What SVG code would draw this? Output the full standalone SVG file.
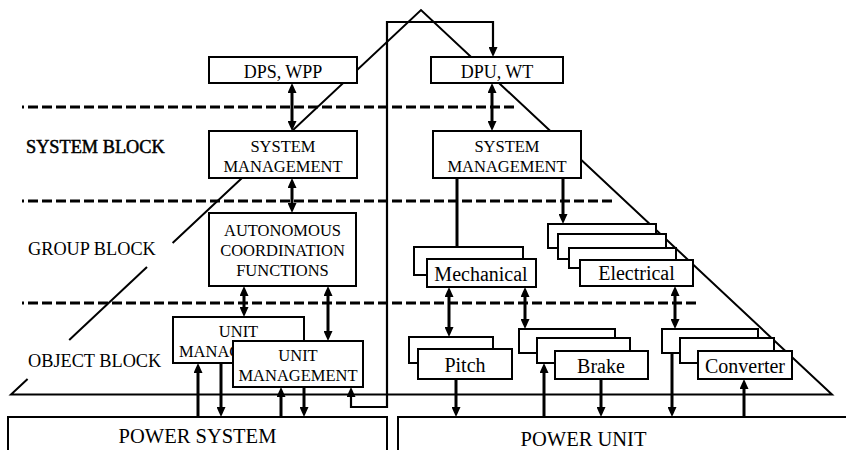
<svg xmlns="http://www.w3.org/2000/svg" width="846" height="450" viewBox="0 0 846 450">
<style>
  .box { fill: #fff; stroke: #000; stroke-width: 2; }
  .t { font-family: "Liberation Serif", "Times New Roman", serif; fill: #000; text-anchor: middle; }
  .s16 { font-size: 16.5px; }
  .s18 { font-size: 18px; }
  .s20 { font-size: 20px; }
  .lbl { font-family: "Liberation Serif", "Times New Roman", serif; font-size: 18.3px; fill: #000; }
  .dash { stroke: #000; stroke-width: 3; stroke-dasharray: 10 4; fill: none; }
  .pyr { stroke: #000; stroke-width: 2; fill: none; }
  .arr { stroke: #000; stroke-width: 3; fill: none; marker-end: url(#ah); }
  .darr { stroke: #000; stroke-width: 3; fill: none; marker-start: url(#ah); marker-end: url(#ah); }
</style>
<defs>
  <marker id="ah" markerUnits="userSpaceOnUse" markerWidth="10" markerHeight="9" refX="6" refY="4.5" orient="auto-start-reverse">
    <path d="M0,0 L10,4.5 L0,9 Z" fill="#000"/>
  </marker>
</defs>
<rect width="846" height="450" fill="#fff"/>

<g id="levels">
  <line class="dash" x1="22" y1="107" x2="518" y2="107" stroke-dashoffset="8"/>
  <line class="dash" x1="22" y1="201" x2="615" y2="201" stroke-dashoffset="8"/>
  <line class="dash" x1="22" y1="303" x2="700" y2="303" stroke-dashoffset="8"/>
</g>

<g id="pyramid">
  <polyline class="pyr" points="172.6,243 421,10 832,394.5 11,394.5 27.6,379"/>
  <line class="pyr" x1="147" y1="267" x2="69.2" y2="340"/>
</g>

<g id="labels">
  <text class="lbl" x="26" y="153" stroke="#000" stroke-width="0.5">SYSTEM BLOCK</text>
  <text class="lbl" x="28" y="255">GROUP BLOCK</text>
  <text class="lbl" x="28" y="367">OBJECT BLOCK</text>
</g>

<g id="connectors">
  <line class="darr" x1="292" y1="87" x2="292" y2="127"/>
  <line class="darr" x1="292" y1="182" x2="292" y2="209"/>
  <path d="M351,391 V407 H387 V22 H493 V53" stroke="#000" stroke-width="2.2" fill="none" marker-start="url(#ah)" marker-end="url(#ah)"/>
  <line class="darr" x1="492" y1="87" x2="492" y2="127"/>
  <line class="arr" x1="457" y1="178" x2="457" y2="255"/>
  <line class="arr" x1="563" y1="178" x2="563" y2="220"/>
  <line class="darr" x1="244" y1="290" x2="244" y2="313"/>
  <line class="darr" x1="328" y1="290" x2="328" y2="337"/>
  <line class="arr" x1="198" y1="417" x2="198" y2="367"/>
  <line class="arr" x1="221" y1="363" x2="221" y2="413"/>
  <line class="arr" x1="281" y1="417" x2="281" y2="391"/>
  <line class="arr" x1="304" y1="387" x2="304" y2="413"/>
  <line class="darr" x1="449" y1="291" x2="449" y2="333"/>
  <line class="darr" x1="525" y1="291" x2="525" y2="325"/>
  <line class="darr" x1="675" y1="290" x2="675" y2="325"/>
  <line class="arr" x1="456" y1="379" x2="456" y2="413"/>
  <line class="arr" x1="544" y1="417" x2="544" y2="367"/>
  <line class="arr" x1="601" y1="379" x2="601" y2="413"/>
  <line class="arr" x1="672" y1="353" x2="672" y2="413"/>
  <line class="arr" x1="744" y1="417" x2="744" y2="383"/>
</g>

<g id="dps-wpp">
  <rect class="box" x="209" y="57" width="148" height="26"/>
  <text class="t s18" x="283" y="78">DPS, WPP</text>
</g>
<g id="system-mgmt-left">
  <rect class="box" x="209" y="131" width="148" height="47"/>
  <text class="t s16" x="283" y="152">SYSTEM</text>
  <text class="t s16" x="283" y="172">MANAGEMENT</text>
</g>
<g id="autonomous">
  <rect class="box" x="209" y="213" width="147" height="73"/>
  <text class="t s16" x="282.5" y="236">AUTONOMOUS</text>
  <text class="t s16" x="282.5" y="256">COORDINATION</text>
  <text class="t s16" x="282.5" y="276">FUNCTIONS</text>
</g>
<g id="unit-mgmt-1">
  <rect class="box" x="173" y="317" width="131" height="46"/>
  <text class="t s16" x="238.5" y="337">UNIT</text>
  <text class="t s16" x="238.5" y="357">MANAGEMENT</text>
</g>
<g id="unit-mgmt-2">
  <rect class="box" x="233" y="341" width="130" height="46"/>
  <text class="t s16" x="298" y="361">UNIT</text>
  <text class="t s16" x="298" y="381">MANAGEMENT</text>
</g>
<g id="dpu-wt">
  <rect class="box" x="431" y="57" width="132" height="26"/>
  <text class="t s18" x="497" y="78">DPU, WT</text>
</g>
<g id="system-mgmt-right">
  <rect class="box" x="433" y="131" width="148" height="47"/>
  <text class="t s16" x="507" y="152">SYSTEM</text>
  <text class="t s16" x="507" y="172">MANAGEMENT</text>
</g>
<g id="mechanical">
  <rect class="box" x="414" y="247" width="109" height="28"/>
  <rect class="box" x="427" y="259" width="109" height="28"/>
  <text class="t s20" x="481" y="281">Mechanical</text>
</g>
<g id="electrical">
  <rect class="box" x="548" y="224" width="108" height="24"/>
  <rect class="box" x="558" y="234" width="108" height="25"/>
  <rect class="box" x="569" y="248" width="107" height="20"/>
  <rect class="box" x="580" y="260" width="113" height="26"/>
  <text class="t s20" x="636.5" y="280">Electrical</text>
</g>
<g id="pitch">
  <rect class="box" x="409" y="337" width="84" height="26"/>
  <rect class="box" x="418" y="349" width="94" height="30"/>
  <text class="t s20" x="465" y="372">Pitch</text>
</g>
<g id="brake">
  <rect class="box" x="519" y="329" width="96" height="24"/>
  <rect class="box" x="537" y="338" width="93" height="25"/>
  <rect class="box" x="555" y="351" width="93" height="28"/>
  <text class="t s20" x="601" y="373">Brake</text>
</g>
<g id="converter">
  <rect class="box" x="662" y="329" width="96" height="24"/>
  <rect class="box" x="680" y="338" width="94" height="25"/>
  <rect class="box" x="698" y="351" width="94" height="28"/>
  <text class="t s20" x="745" y="373">Converter</text>
</g>
<g id="power-system">
  <rect class="box" x="8" y="417" width="379" height="50"/>
  <text class="t" style="font-size:20.5px" x="197.5" y="443">POWER SYSTEM</text>
</g>
<g id="power-unit">
  <rect class="box" x="398" y="417" width="470" height="50"/>
  <text class="t" style="font-size:20.5px" x="583.5" y="446">POWER UNIT</text>
</g>
</svg>
